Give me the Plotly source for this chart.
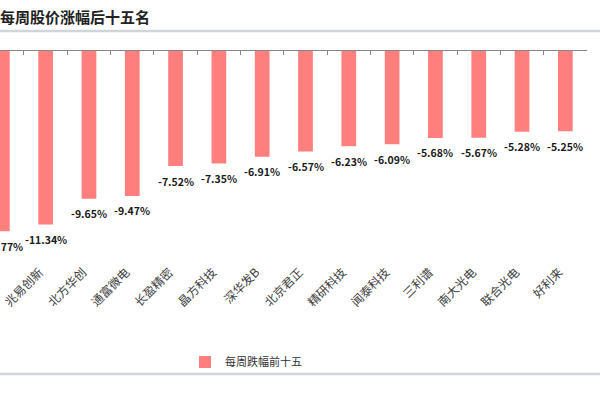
import plotly.graph_objects as go

categories = ["移动", "兆易创新", "北方华创", "通富微电", "长盈精密", "晶方科技", "深华发B",
              "北京君正", "精研科技", "闻泰科技", "三利谱", "南大光电", "联合光电", "好利来"]
values = [-11.77, -11.34, -9.65, -9.47, -7.52, -7.35, -6.91,
          -6.57, -6.23, -6.09, -5.68, -5.67, -5.28, -5.25]
series_name = "每周跌幅前十五"
title_text = "每周股价涨幅后十五名"

positions = list(range(len(categories)))
boundaries = [p + 0.5 for p in positions]

FONT = "Noto Sans CJK SC"
BAR_COLOR = "#FF7F7F"

fig = go.Figure()
fig.add_trace(go.Bar(
    x=positions, y=values, name=series_name,
    marker=dict(color=BAR_COLOR, line=dict(width=0)),
    width=0.34, showlegend=True,
))
# invisible trace to register top axis
fig.add_trace(go.Scatter(x=[positions[0]], y=[0], xaxis="x2", yaxis="y",
                         mode="markers", marker=dict(opacity=0), showlegend=False,
                         hoverinfo="skip"))

for p, v in zip(positions, values):
    fig.add_annotation(x=p, y=v, xref="x", yref="y", text=f"<b>{v:.2f}%</b>",
                       showarrow=False, yshift=-15,
                       font=dict(family=FONT, size=10.5, color="#1a1a1a"))

PH = 212.0  # plot height in px
xr = [-0.054, 13.5]
fig.update_layout(
    width=600, height=400,
    margin=dict(l=0, r=13, t=51, b=137, pad=0),
    paper_bgcolor="white", plot_bgcolor="white",
    title=dict(text=f"<b>{title_text}</b>", xref="container", yref="container",
               x=0.0, xanchor="left", y=1 - 18 / 400, yanchor="middle",
               font=dict(family=FONT, size=15, color="#222222")),
    xaxis=dict(range=xr, tickmode="array", tickvals=positions, ticktext=categories,
               tickangle=-45, showline=False, ticks="", showgrid=False, zeroline=False,
               automargin=False, ticklabelshift=-6, ticklabelstandoff=-1,
               ticklabeloverflow="allow",
               tickfont=dict(family=FONT, size=12, color="#404040")),
    xaxis2=dict(range=xr, overlaying="x", side="top", anchor="y", tickmode="array",
                tickvals=boundaries, ticks="inside", ticklen=4, tickcolor="#868686",
                showline=True, linecolor="#868686", linewidth=1, showticklabels=False,
                showgrid=False, zeroline=False, automargin=False),
    yaxis=dict(range=[-13.85, 0], visible=False, showgrid=False, zeroline=False),
    showlegend=True,
    legend=dict(orientation="h", x=185 / 587, xanchor="left", y=-99 / PH, yanchor="middle",
                font=dict(family=FONT, size=11, color="#333333"),
                bgcolor="rgba(0,0,0,0)", itemwidth=30),
    shapes=[
        dict(type="line", xref="paper", yref="paper", x0=-0.01, x1=1.03,
             y0=1 + 20 / PH, y1=1 + 20 / PH, line=dict(color="#D0D5DC", width=2.5)),
        dict(type="line", xref="paper", yref="paper", x0=-0.01, x1=1.03,
             y0=-111 / PH, y1=-111 / PH, line=dict(color="#D0D5DC", width=2.5)),
    ],
)

fig.write_html("out.html", config={"displayModeBar": False},
               post_script="document.body.style.margin='0';")
